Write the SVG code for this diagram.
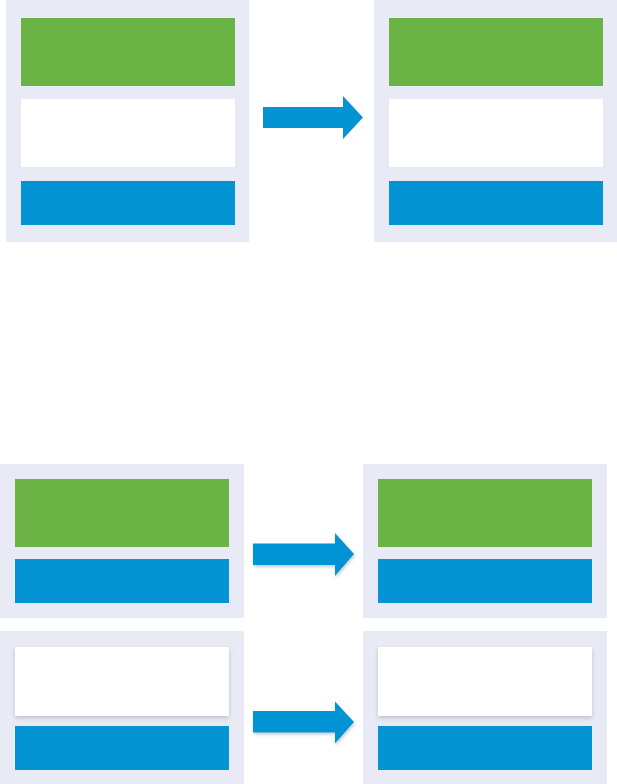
<svg xmlns="http://www.w3.org/2000/svg" width="617" height="784" viewBox="0 0 617 784">
<style>
.panel{fill:#e8eaf5}
.green{fill:#6bb345}
.white{fill:#ffffff}
.blue{fill:#0494d4}
.arrow{fill:#0494d4}
</style>
<defs>
<filter id="sh" x="-10%" y="-20%" width="120%" height="150%">
<feDropShadow dx="0" dy="2" stdDeviation="2" flood-color="#000" flood-opacity="0.18"/>
</filter>
<filter id="ash" x="-10%" y="-20%" width="130%" height="160%">
<feDropShadow dx="1" dy="2" stdDeviation="1.5" flood-color="#000" flood-opacity="0.2"/>
</filter>
</defs>
<g id="top-left">
<rect class="panel" x="6" y="0" width="243" height="242"/>
<rect class="green" x="21" y="18" width="214" height="68"/>
<rect class="white" x="21" y="99" width="214" height="68"/>
<rect class="blue" x="21" y="181" width="214" height="44"/>
</g>
<g id="top-right">
<rect class="panel" x="374" y="0" width="243" height="242"/>
<rect class="green" x="389" y="18" width="214" height="68"/>
<rect class="white" x="389" y="99" width="214" height="68"/>
<rect class="blue" x="389" y="181" width="214" height="44"/>
</g>
<g id="bottom-left-1">
<rect class="panel" x="0" y="464" width="244" height="154"/>
<rect class="green" x="15" y="479" width="214" height="68"/>
<rect class="blue" x="15" y="559" width="214" height="44"/>
</g>
<g id="bottom-right-1">
<rect class="panel" x="363" y="464" width="244" height="154"/>
<rect class="green" x="378" y="479" width="214" height="68"/>
<rect class="blue" x="378" y="559" width="214" height="44"/>
</g>
<g id="bottom-left-2">
<rect class="panel" x="0" y="631" width="244" height="153"/>
<rect class="white" x="15" y="647" width="214" height="69" filter="url(#sh)"/>
<rect class="blue" x="15" y="726" width="214" height="44"/>
</g>
<g id="bottom-right-2">
<rect class="panel" x="363" y="631" width="244" height="153"/>
<rect class="white" x="378" y="647" width="214" height="69" filter="url(#sh)"/>
<rect class="blue" x="378" y="726" width="214" height="44"/>
</g>
<g id="connectors">
<polygon class="arrow" points="263,107 343,107 343,96 363,117.5 343,139 343,128 263,128"/>
<polygon class="arrow" filter="url(#ash)" points="253,543.5 335,543.5 335,533 354,554 335,576 335,565 253,565"/>
<polygon class="arrow" filter="url(#ash)" points="253,711 335,711 335,701.5 354,722 335,743.5 335,732.5 253,732.5"/>
</g>
</svg>
